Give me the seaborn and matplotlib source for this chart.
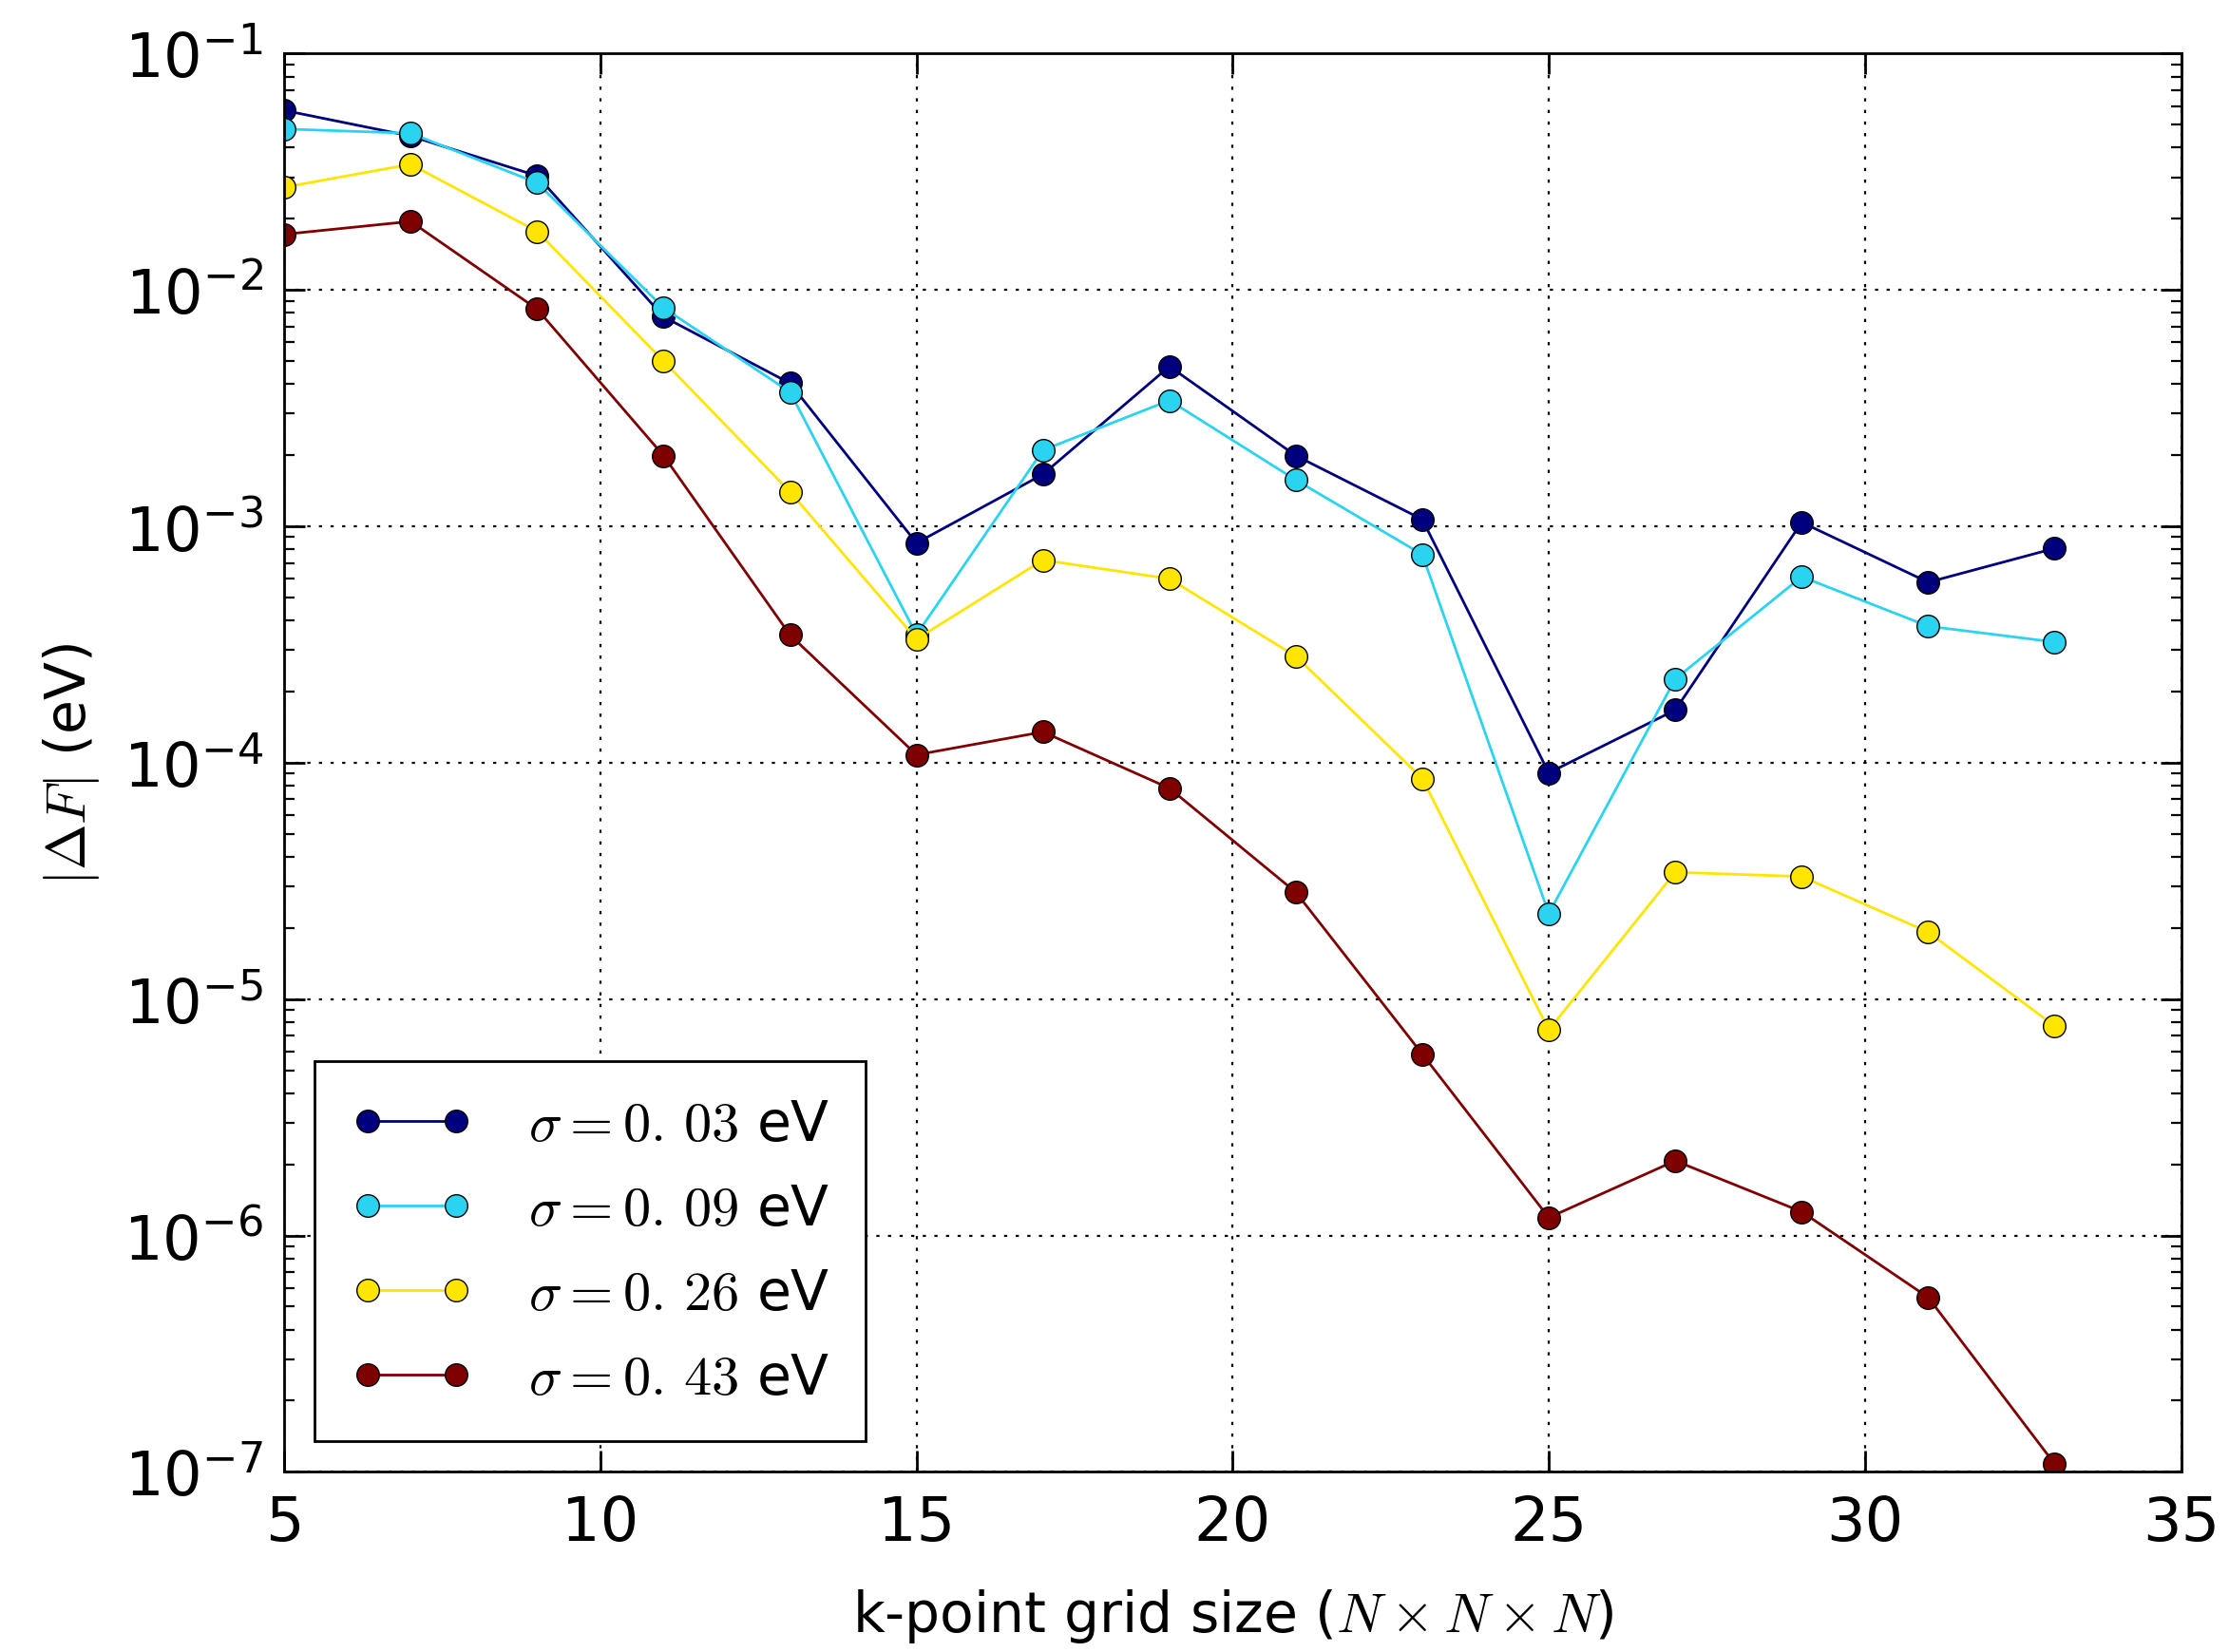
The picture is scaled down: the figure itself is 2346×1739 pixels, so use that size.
import matplotlib
matplotlib.use("Agg")
import matplotlib.pyplot as plt
import seaborn as sns
import pandas as pd
from matplotlib.ticker import LogLocator, LogFormatterSciNotation

grid_n = [5, 7, 9, 11, 13, 15, 17, 19, 21, 23, 25, 27, 29, 31, 33]

df_003 = [0.0575, 0.0448, 0.0304, 0.0077, 0.00403, 0.00085, 0.00166, 0.00475,
          0.00199, 0.00107, 9.06e-5, 1.67e-4, 1.04e-3, 5.8e-4, 8.07e-4]
df_009 = [0.048, 0.046, 0.0284, 0.0084, 0.0037, 3.48e-4, 2.1e-3, 3.41e-3,
          1.57e-3, 7.6e-4, 2.3e-5, 2.26e-4, 6.12e-4, 3.78e-4, 3.24e-4]
df_026 = [0.0272, 0.034, 0.0177, 5.0e-3, 1.4e-3, 3.33e-4, 7.2e-4, 6.0e-4,
          2.82e-4, 8.57e-5, 7.4e-6, 3.44e-5, 3.3e-5, 1.92e-5, 7.7e-6]
df_043 = [0.0172, 0.0195, 8.3e-3, 1.99e-3, 3.47e-4, 1.08e-4, 1.35e-4, 7.8e-5,
          2.83e-5, 5.85e-6, 1.19e-6, 2.07e-6, 1.26e-6, 5.47e-7, 1.08e-7]

labels = [r"$\sigma=0.\,03$ eV", r"$\sigma=0.\,09$ eV",
          r"$\sigma=0.\,26$ eV", r"$\sigma=0.\,43$ eV"]
colors = ["#00007f", "#2ad4f0", "#ffe500", "#7f0000"]
series = [df_003, df_009, df_026, df_043]

plt.rcParams["mathtext.fontset"] = "cm"
plt.rcParams["axes.unicode_minus"] = False
plt.rcParams["font.family"] = ["DejaVu Sans"]

fig = plt.figure(figsize=(11.73, 8.7), dpi=200)
ax = fig.add_axes([0.1275, 0.109, 0.851, 0.858])

for vals, lab, col in zip(series, labels, colors):
    d = pd.DataFrame({"n": grid_n, "dF": vals})
    sns.lineplot(data=d, x="n", y="dF", ax=ax, color=col, label=lab,
                 marker="o", markersize=8.5, markeredgecolor="black",
                 markeredgewidth=0.5, linewidth=1.0)

ax.set_yscale("log")
ax.set_xlim(5, 35)
ax.set_ylim(1e-7, 1e-1)
ax.yaxis.set_major_locator(LogLocator(base=10, numticks=10))
ax.yaxis.set_minor_locator(LogLocator(base=10, subs=range(2, 10), numticks=20))
ax.yaxis.set_major_formatter(LogFormatterSciNotation())

ax.grid(True, which="major", color="black", linestyle=(0, (1.5, 4)), linewidth=0.8)
ax.tick_params(which="both", direction="in", top=True, right=True, labelsize=23, pad=8)
ax.tick_params(which="major", length=8, width=1)
ax.tick_params(which="minor", length=4, width=0.8)
for s in ax.spines.values():
    s.set_linewidth(1.0)

ax.set_xlabel(r"k-point grid size ($N\times N\times N$)", fontsize=21, labelpad=13)
ax.set_ylabel(r"$|\Delta F|$ (eV)", fontsize=21, labelpad=8)

leg = ax.legend(loc="lower left", fontsize=21, numpoints=2, fancybox=False,
                framealpha=1, edgecolor="black", borderaxespad=0.55,
                handlelength=2.2, borderpad=0.65, labelspacing=0.55,
                handletextpad=1.0)
leg.get_frame().set_linewidth(1.0)

fig.savefig("out.png", dpi=200)
